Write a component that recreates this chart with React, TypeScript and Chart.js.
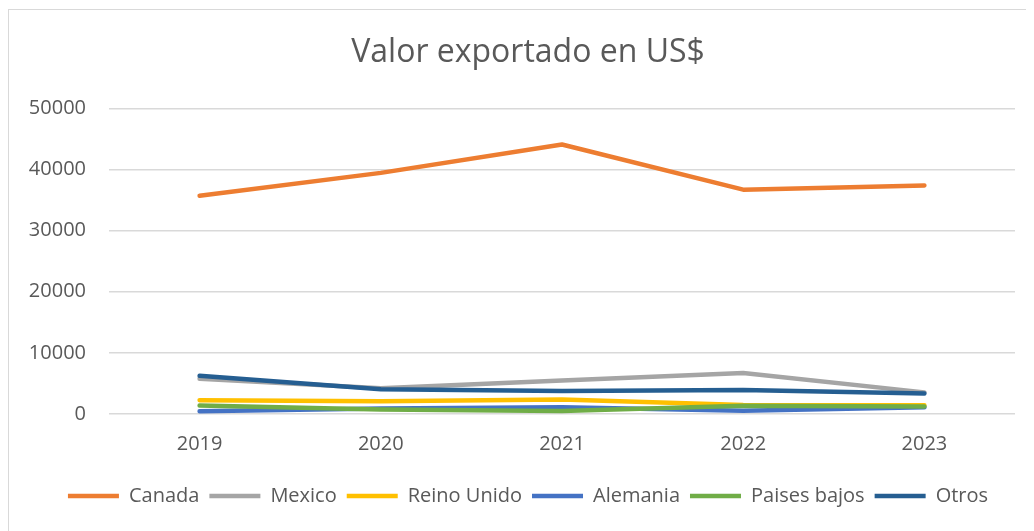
import React, { useEffect, useRef } from "react";
import { Chart, registerables } from "chart.js";

Chart.register(...registerables);

const years = ["2019", "2020", "2021", "2022", "2023"];
const canada = [35700, 39450, 44100, 36700, 37400];
const mexico = [5750, 4200, 5470, 6690, 3540];
const reinoUnido = [2270, 2100, 2380, 1490, 1440];
const alemania = [440, 880, 1100, 550, 1100];
const paisesBajos = [1380, 720, 500, 1330, 1220];
const otros = [6250, 4040, 3760, 3920, 3370];

const seriesNames = ["Canada", "Mexico", "Reino Unido", "Alemania", "Paises bajos", "Otros"];
const seriesColors = ["#ED7D31", "#A5A5A5", "#FFC000", "#4472C4", "#70AD47", "#255E91"];
const seriesValues = [canada, mexico, reinoUnido, alemania, paisesBajos, otros];
const yTicks = [0, 10000, 20000, 30000, 40000, 50000];

const FONT = "'Open Sans', sans-serif";
const TEXT = "#595959";

export default function App() {
  const ref = useRef<HTMLCanvasElement | null>(null);
  useEffect(() => {
    if (!ref.current) return;
    const chart = new Chart(ref.current, {
      type: "line",
      data: {
        labels: years,
        datasets: seriesNames.map((name, i) => ({
          label: name,
          data: seriesValues[i],
          borderColor: seriesColors[i],
          backgroundColor: seriesColors[i],
          borderWidth: 4.5,
          borderCapStyle: "round" as const,
          borderJoinStyle: "round" as const,
          pointRadius: 0,
          pointHoverRadius: 0,
          tension: 0,
          order: seriesNames.length - i,
        })),
      },
      options: {
        animation: false,
        responsive: false,
        maintainAspectRatio: false,
        layout: { padding: { left: 14, right: 0, top: 0, bottom: 15 } },
        plugins: {
          tooltip: { enabled: false },
          title: {
            display: true,
            text: "Valor exportado en US$",
            color: TEXT,
            font: { family: FONT, size: 32, weight: "normal" },
            padding: { top: 26, bottom: 36 },
          },
          legend: {
            position: "bottom",
            labels: {
              usePointStyle: true,
              pointStyle: "line",
              pointStyleWidth: 51,
              boxHeight: 20,
              color: TEXT,
              font: { family: FONT, size: 20 },
              padding: 10,
              sort: (a: any, b: any) => a.datasetIndex - b.datasetIndex,
            },
          },
        },
        scales: {
          x: {
            offset: true,
            grid: { display: false, drawTicks: false },
            border: { display: false },
            ticks: { color: TEXT, font: { family: FONT, size: 20 }, padding: 18, maxRotation: 0 },
            afterFit: (s: any) => { s.height = 62; },
          },
          y: {
            min: 0,
            max: 50000,
            afterBuildTicks: (s: any) => { s.ticks = yTicks.map((v) => ({ value: v })); },
            grid: { color: "#D9D9D9", lineWidth: 1.4, drawTicks: false },
            border: { display: false },
            ticks: {
              color: TEXT,
              font: { family: FONT, size: 20 },
              padding: 23,
              callback: (v: any) => String(v),
            },
            afterFit: (s: any) => { s.width = 87; },
          },
          yRight: {
            position: "right",
            display: true,
            grid: { display: false, drawTicks: false },
            border: { display: false },
            ticks: { display: false },
            afterFit: (s: any) => { s.width = 19; },
          },
        },
      },
    });
    return () => chart.destroy();
  }, []);
  return (
    <div style={{ position: "relative", width: 1026, height: 523 }}>
      <canvas ref={ref} width={1026} height={523} style={{ display: "block" }} />
      <div style={{ position: "absolute", left: 0, top: 1, width: 1026, height: 522, borderLeft: "1px solid #D9D9D9", borderTop: "1px solid #D9D9D9", boxSizing: "border-box", pointerEvents: "none" }} />
    </div>
  );
}
